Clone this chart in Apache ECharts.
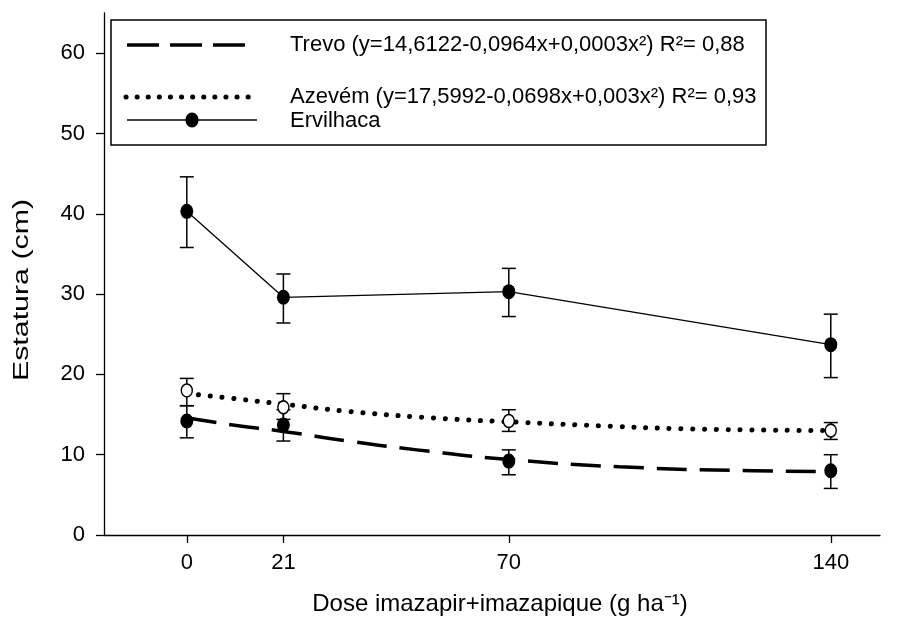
<!DOCTYPE html>
<html>
<head>
<meta charset="utf-8">
<script src="https://cdn.jsdelivr.net/npm/echarts@6/dist/echarts.min.js"></script>
<style>html,body{margin:0;padding:0;background:#fff}#c{width:911px;height:624px}</style>
</head>
<body>
<div id="c"></div>
<script>
// ---- data ----
var doses = [0, 21, 70, 140];
var yTicks = [0, 10, 20, 30, 40, 50, 60];

var ervilhaca = [40.3, 29.6, 30.3, 23.7];
var ervilhacaLow = [35.8, 26.4, 27.2, 19.6];
var ervilhacaHigh = [44.6, 32.5, 33.2, 27.5];

var trevo = [14.2, 13.7, 9.2, 8.0];
var trevoLow = [12.1, 11.7, 7.5, 5.8];
var trevoHigh = [16.1, 15.6, 10.6, 10.0];

var azevem = [18.0, 15.9, 14.2, 13.0];
var azevemLow = [16.1, 14.4, 12.9, 11.9];
var azevemHigh = [19.5, 17.6, 15.6, 14.0];

var trevoFitX = [0, 10, 21, 35, 50, 70, 94, 123, 140];
var trevoFitY = [14.6, 13.7, 12.9, 11.7, 10.6, 9.4, 8.5, 8.0, 7.9];
var azevemFitX = [0, 10, 21, 35, 53, 70, 90, 110, 140];
var azevemFitY = [17.6, 17.0, 16.3, 15.4, 14.6, 14.1, 13.6, 13.2, 13.0];

var legendTexts = [
  'Trevo (y=14,6122-0,0964x+0,0003x²) R²= 0,88',
  'Azevém (y=17,5992-0,0698x+0,003x²) R²= 0,93',
  'Ervilhaca'
];
var xTitle = 'Dose imazapir+imazapique (g ha⁻¹)';
var yTitle = 'Estatura (cm)';

// ---- build ----
function pairs(xs, ys) { return xs.map(function (x, i) { return [x, ys[i]]; }); }
function bars(xs, lo, hi) { return xs.map(function (x, i) { return [x, lo[i], hi[i]]; }); }
var errData = [].concat(
  bars(doses, ervilhacaLow, ervilhacaHigh),
  bars(doses, trevoLow, trevoHigh),
  bars(doses, azevemLow, azevemHigh)
);

var FONT = '"Liberation Sans", Arial, Helvetica, sans-serif';
var chart = echarts.init(document.getElementById('c'), null, { renderer: 'canvas' });

var option = {
  animation: false,
  backgroundColor: '#fff',
  textStyle: { fontFamily: FONT, color: '#000' },
  grid: { left: 104, right: 31, top: 13, bottom: 89, containLabel: false },
  xAxis: {
    type: 'value', min: -18, max: 150.7,
    axisLine: { show: true, onZero: false, lineStyle: { color: '#000', width: 1.3 } },
    axisTick: { show: true, customValues: doses, length: 8, inside: false, lineStyle: { color: '#000', width: 1.3 } },
    axisLabel: { customValues: doses, fontSize: 22, color: '#000', margin: 17, fontFamily: FONT },
    splitLine: { show: false }
  },
  yAxis: {
    type: 'value', min: 0, max: 65,
    axisLine: { show: true, onZero: false, lineStyle: { color: '#000', width: 1.3 } },
    axisTick: { show: true, customValues: yTicks, length: 8, inside: false, lineStyle: { color: '#000', width: 1.3 } },
    axisLabel: { customValues: yTicks, fontSize: 22, color: '#000', margin: 19, fontFamily: FONT },
    splitLine: { show: false }
  },
  graphic: [
    { type: 'text', x: 22, y: 290, rotation: Math.PI / 2, scaleX: 1.38, z: 10,
      style: { text: yTitle, font: '22px ' + FONT, fill: '#000', align: 'center', verticalAlign: 'middle' } },
    { type: 'text', x: 500, y: 604, z: 10,
      style: { text: xTitle, font: '24px ' + FONT, fill: '#000', align: 'center', verticalAlign: 'middle' } },
    // legend box
    { type: 'rect', z: 20, shape: { x: 111, y: 20, width: 655, height: 125 },
      style: { fill: '#fff', stroke: '#000', lineWidth: 1.5 } },
    { type: 'line', z: 21, shape: { x1: 127, y1: 45, x2: 245, y2: 45 },
      style: { stroke: '#000', lineWidth: 3.5, lineDash: [32, 11] } },
    { type: 'line', z: 21, shape: { x1: 126, y1: 97, x2: 258, y2: 97 },
      style: { stroke: '#000', lineWidth: 5, lineDash: [0.1, 11], lineCap: 'round' } },
    { type: 'line', z: 21, shape: { x1: 127, y1: 120, x2: 257, y2: 120 },
      style: { stroke: '#000', lineWidth: 1.3 } },
    { type: 'ellipse', z: 22, shape: { cx: 192, cy: 120, rx: 6.5, ry: 7.5 },
      style: { fill: '#000' } },
    { type: 'text', x: 290, y: 45, z: 21,
      style: { text: legendTexts[0], font: '22px ' + FONT, fill: '#000', verticalAlign: 'middle' } },
    { type: 'text', x: 290, y: 97, z: 21,
      style: { text: legendTexts[1], font: '22px ' + FONT, fill: '#000', verticalAlign: 'middle' } },
    { type: 'text', x: 290, y: 121, z: 21,
      style: { text: legendTexts[2], font: '22px ' + FONT, fill: '#000', verticalAlign: 'middle' } }
  ],
  series: [
    {
      type: 'custom', name: 'err', z: 1,
      data: errData,
      renderItem: function (params, api) {
        var x = api.value(0);
        var lo = api.coord([x, api.value(1)]);
        var hi = api.coord([x, api.value(2)]);
        var hw = 7;
        var st = { stroke: '#000', lineWidth: 1.5 };
        return {
          type: 'group',
          children: [
            { type: 'line', shape: { x1: lo[0], y1: lo[1], x2: hi[0], y2: hi[1] }, style: st },
            { type: 'line', shape: { x1: lo[0] - hw, y1: lo[1], x2: lo[0] + hw, y2: lo[1] }, style: st },
            { type: 'line', shape: { x1: hi[0] - hw, y1: hi[1], x2: hi[0] + hw, y2: hi[1] }, style: st }
          ]
        };
      }
    },
    {
      type: 'line', name: 'Trevo fit', z: 2, smooth: true, symbol: 'none',
      data: pairs(trevoFitX, trevoFitY),
      lineStyle: { color: '#000', width: 3.5, type: [30, 13] }
    },
    {
      type: 'line', name: 'Azevém fit', z: 2, smooth: true, symbol: 'none',
      data: pairs(azevemFitX, azevemFitY),
      lineStyle: { color: '#000', width: 5, type: [0.1, 11.7], cap: 'round' }
    },
    {
      type: 'line', name: 'Ervilhaca', z: 3, symbol: 'circle', symbolSize: [13, 15],
      data: pairs(doses, ervilhaca),
      lineStyle: { color: '#000', width: 1.3 },
      itemStyle: { color: '#000', opacity: 1 }
    },
    {
      type: 'scatter', name: 'Trevo', z: 3, symbol: 'circle', symbolSize: [13, 15],
      data: pairs(doses, trevo),
      itemStyle: { color: '#000', opacity: 1 }
    },
    {
      type: 'scatter', name: 'Azevém', z: 3, symbol: 'circle', symbolSize: [11, 13],
      data: pairs(doses, azevem),
      itemStyle: { color: '#fff', borderColor: '#000', borderWidth: 1.5, opacity: 1 }
    }
  ]
};
chart.setOption(option);
</script>
</body>
</html>
